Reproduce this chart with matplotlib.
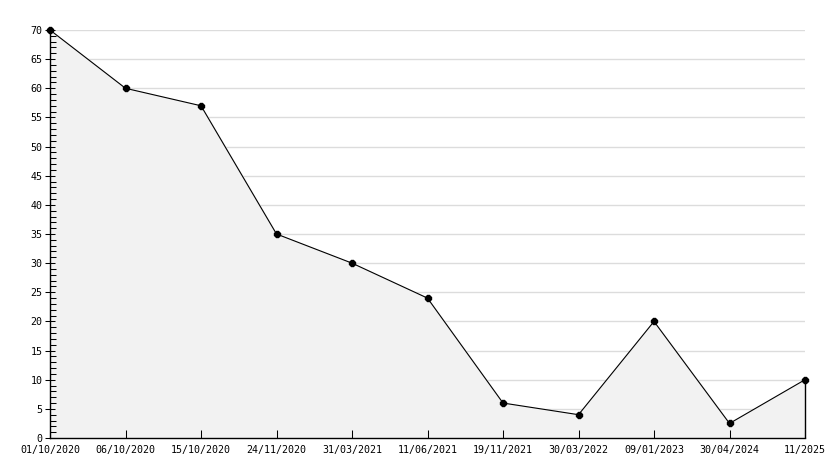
import matplotlib
matplotlib.use("Agg")
import matplotlib.pyplot as plt
from matplotlib.ticker import MultipleLocator
import numpy as np

labels = ["01/10/2020", "06/10/2020", "15/10/2020", "24/11/2020", "31/03/2021",
          "11/06/2021", "19/11/2021", "30/03/2022", "09/01/2023", "30/04/2024", "11/2025"]
values = [70, 60, 57, 35, 30, 24, 6, 4, 20, 2.5, 10]

plt.rcParams['font.family'] = ['DejaVu Sans Mono']
fig = plt.figure(figsize=(8.34, 4.68), dpi=100)
ax = fig.add_axes([50/834, 30/468, 755/834, 408/468])

x = np.arange(len(values))
ax.fill_between(x, values, 0, color='#f2f2f2', zorder=1)
ax.plot(x, values, color='black', lw=0.8, zorder=3, clip_on=False)
ax.plot(x, values, ls='none', marker='8', ms=4.5, color='black', zorder=4, clip_on=False)
ax.vlines(x[-1], 0, values[-1], color='black', lw=1, zorder=3, clip_on=False)

ax.set_xlim(0, len(values) - 1)
ax.set_ylim(0, 70)
ax.set_xticks(x)
ax.set_xticklabels(labels)
ax.yaxis.set_major_locator(MultipleLocator(5))
ax.yaxis.set_minor_locator(MultipleLocator(1))
for yv in range(5, 71, 5):
    ax.axhline(yv, color='#dcdcdc', lw=1, zorder=0)

for s in ['top', 'right']:
    ax.spines[s].set_visible(False)
for s in ['left', 'bottom']:
    ax.spines[s].set_linewidth(1.0)
    ax.spines[s].set_zorder(5)

ax.tick_params(axis='y', which='major', direction='inout', length=7, width=0.75, labelsize=7.2, pad=2)
ax.tick_params(axis='y', which='minor', direction='in', length=4, width=0.75)
ax.tick_params(axis='x', which='major', direction='in', length=6, width=0.75, labelsize=7.2, pad=5)

fig.savefig('out.png', dpi=100)
